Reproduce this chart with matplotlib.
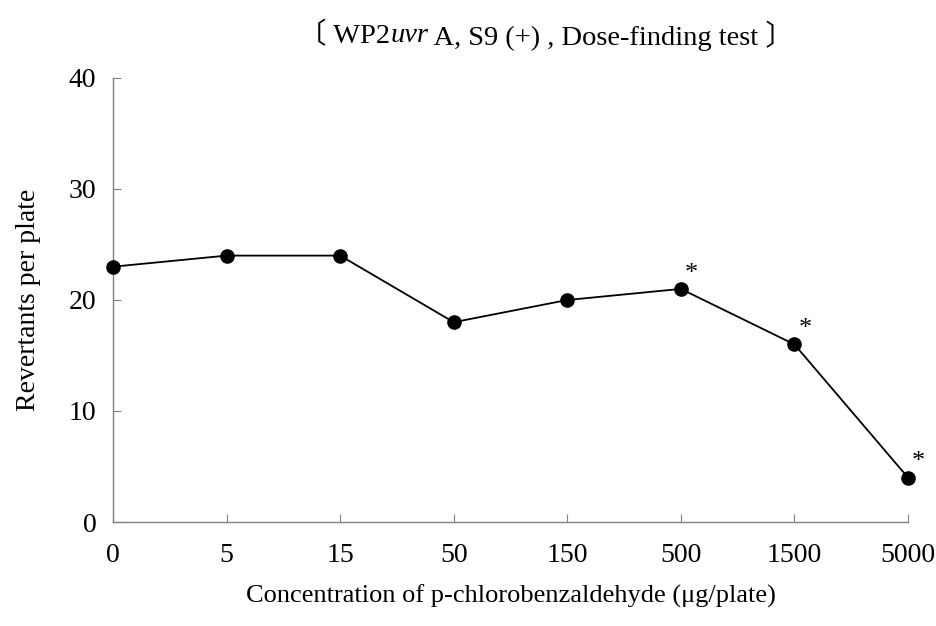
import matplotlib
matplotlib.use("Agg")
import matplotlib.pyplot as plt

# data
doses = ["0", "5", "15", "50", "150", "500", "1500", "5000"]
revertants = [23, 24, 24, 18, 20, 21, 16, 4]
significant = [False, False, False, False, False, True, True, True]
y_ticks = [0, 10, 20, 30, 40]

plt.rcParams['font.family'] = ['Liberation Serif', 'Noto Sans CJK JP', 'DejaVu Sans']
axis_gray = '#808080'

fig = plt.figure(figsize=(9.37, 6.26), dpi=100)
ax = fig.add_axes([113/937, 1-522/626, (908-113)/937, (522-78)/626])

x = list(range(len(doses)))
ax.plot(x, revertants, color='black', lw=1.3, marker='o', ms=9.5, clip_on=False, zorder=3)
for xi, yi, s in zip(x, revertants, significant):
    if s:
        ax.annotate('*', (xi, yi), xytext=(3, 3), textcoords='offset points',
                    fontsize=19, ha='left', va='bottom')

ax.set_xlim(0, len(doses) - 1)
ax.set_ylim(0, 40)
ax.set_xticks(x)
ax.set_xticklabels(doses)
ax.set_yticks(y_ticks)
ax.tick_params(direction='in', length=6, color=axis_gray, labelsize=20)
ax.tick_params(axis='x', pad=15)
ax.tick_params(axis='y', pad=12)
for side in ['top', 'right']:
    ax.spines[side].set_visible(False)
for side in ['left', 'bottom']:
    ax.spines[side].set_color(axis_gray)
    ax.spines[side].set_linewidth(1.0)

ax.set_ylabel('Revertants per plate', fontsize=20, labelpad=20)
ax.set_xlabel('Concentration of p-chlorobenzaldehyde (\u03bcg/plate)', fontsize=19, labelpad=12)

# title in three pieces so that "uvr" can be italic
renderer = fig.canvas.get_renderer()
ty = 1 - 36/626
parts = [("\u3014 WP2", 'normal', ['Liberation Serif', 'Noto Sans CJK JP']),
         ("uvr", 'italic', 'Liberation Serif'),
         (" A, S9 (+) , Dose-finding test \u3015", 'normal', ['Liberation Serif', 'Noto Sans CJK JP'])]
texts = []
for s, st, fam in parts:
    t = fig.text(0, ty, s, fontsize=20.5, style=st, family=fam, ha='left', va='center')
    texts.append(t)
widths = [t.get_window_extent(renderer).width for t in texts]
total = sum(widths)
start = 546 - total / 2
for t, w in zip(texts, widths):
    t.set_x(start / 937)
    start += w

fig.savefig('out.png', dpi=100)
